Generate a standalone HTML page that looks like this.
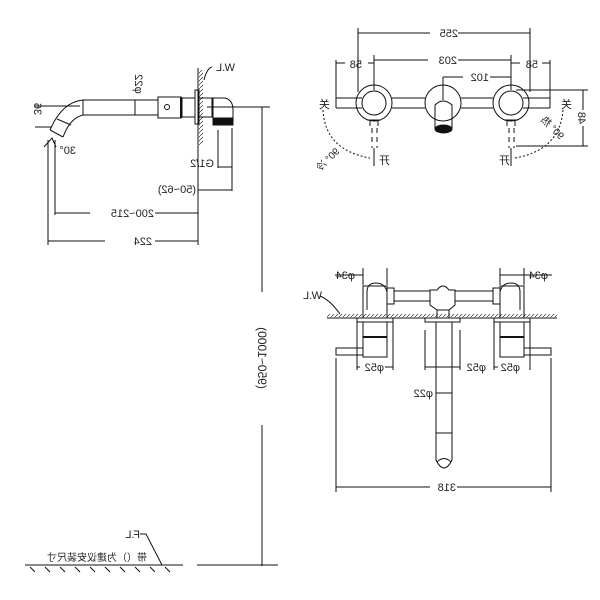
<!DOCTYPE html>
<html><head><meta charset="utf-8"><style>
html,body{margin:0;padding:0;background:#fff}
svg{display:block}
text{font-family:"Liberation Sans","Noto Sans CJK SC",sans-serif;font-size:11px;fill:#222}
</style></head><body>
<svg width="600" height="600" viewBox="0 0 600 600" xmlns="http://www.w3.org/2000/svg" stroke="#111" stroke-width="1" fill="none">
<defs>
<pattern id="h" width="4" height="4" patternUnits="userSpaceOnUse"><path d="M0,4 L4,0" stroke="#333" stroke-width="0.7"/></pattern>
</defs>
<!-- LEFT SIDE VIEW -->
<line x1="198" y1="68" x2="198" y2="145"/>
<rect x="199" y="70" width="4" height="75" fill="url(#h)" stroke="none"/>
<path d="M204,80 Q207,68 212,67"/>
<text transform="translate(235,71) scale(-1,1)" stroke="none">W.L</text>
<!-- tube -->
<rect x="83" y="100" width="75" height="15"/>
<line x1="135" y1="100" x2="135" y2="115"/>
<rect x="158" y="97" width="23" height="21"/>
<circle cx="167" cy="107" r="2.5"/>
<line x1="181" y1="97" x2="181" y2="118" stroke-width="2"/>
<rect x="182" y="98" width="13" height="19"/>
<rect x="195" y="90" width="4" height="34"/>
<rect x="199" y="98" width="13" height="19"/>
<path d="M213,98 L225,98 Q233,100 233,110 L233,125 L213,125 Z"/>
<rect x="213" y="118" width="20" height="7" fill="#111"/>
<path d="M83,100 Q62,102 50,130 M83,115 Q70,118 63,137 M50,130 L63,137 M57,119 L71,125"/>
<line x1="35" y1="106" x2="80" y2="106"/><line x1="35" y1="127" x2="52" y2="127"/>
<text transform="translate(34,109) rotate(90) scale(-1,1)" stroke="none" text-anchor="middle">36</text>
<path d="M44,147 L52,138 L56,147" />
<line x1="55" y1="140" x2="55" y2="215"/><line x1="48" y1="140" x2="48" y2="245"/>
<text transform="translate(76,154) scale(-1,1)" stroke="none">30°</text>
<text transform="translate(135,84) rotate(90) scale(-1,1)" stroke="none" text-anchor="middle">φ22</text>
<line x1="207" y1="107" x2="270" y2="107"/>
<line x1="218" y1="130" x2="218" y2="168"/><line x1="232" y1="128" x2="232" y2="191"/>
<line x1="218" y1="167" x2="232" y2="167"/>
<text transform="translate(214,167) scale(-1,1)" stroke="none">G1/2</text>
<line x1="198" y1="145" x2="198" y2="245"/>
<line x1="198" y1="190" x2="232" y2="190"/>
<text transform="translate(196,193) scale(-1,1)" stroke="none">(50~62)</text>
<line x1="55" y1="213" x2="90" y2="213"/><line x1="155" y1="213" x2="198" y2="213"/>
<text transform="translate(154,217) scale(-1,1)" stroke="none">200~215</text>
<line x1="48" y1="241" x2="105" y2="241"/><line x1="155" y1="241" x2="198" y2="241"/>
<text transform="translate(152,245) scale(-1,1)" stroke="none">224</text>
<!-- big vertical dim -->
<line x1="262" y1="107" x2="262" y2="292"/><line x1="262" y1="425" x2="262" y2="566"/>
<text transform="translate(258,358) rotate(90) scale(-1,1)" stroke="none" text-anchor="middle" style="font-size:12px">(950~1000)</text>
<line x1="197" y1="565" x2="278" y2="565"/>
<!-- floor -->
<line x1="25" y1="565" x2="183" y2="565"/>
<path d="M30,567l5,5M45,567l5,5M60,567l5,5M75,567l5,5M90,567l5,5M105,567l5,5M120,567l5,5M135,567l5,5M150,567l5,5M165,567l5,5"/>
<path d="M140,534 L146,534 L162,565"/>
<text transform="translate(140,538) scale(-1,1)" stroke="none">F.L</text>
<text transform="translate(147,561) scale(-1,1)" stroke="none" style="font-size:10px">带（）为建议安装尺寸</text>
<!-- TOP RIGHT VIEW -->
<line x1="358" y1="33" x2="430" y2="33"/><line x1="458" y1="33" x2="530" y2="33"/>
<text transform="translate(458,37) scale(-1,1)" stroke="none">255</text>
<line x1="358" y1="28" x2="358" y2="92"/><line x1="530" y1="28" x2="530" y2="92"/>
<line x1="374" y1="55" x2="374" y2="90"/><line x1="511" y1="55" x2="511" y2="90"/>
<line x1="336" y1="60" x2="336" y2="102"/><line x1="550" y1="60" x2="550" y2="102"/>
<line x1="374" y1="60" x2="428" y2="60"/><line x1="458" y1="60" x2="511" y2="60"/>
<text transform="translate(457,64) scale(-1,1)" stroke="none">203</text>
<line x1="336" y1="63" x2="345" y2="63"/><line x1="368" y1="63" x2="374" y2="63"/>
<text transform="translate(362,68) scale(-1,1)" stroke="none">58</text>
<line x1="511" y1="63" x2="520" y2="63"/><line x1="542" y1="63" x2="550" y2="63"/>
<text transform="translate(538,68) scale(-1,1)" stroke="none">58</text>
<line x1="443" y1="77" x2="443" y2="100"/>
<line x1="443" y1="77" x2="463" y2="77"/><line x1="490" y1="77" x2="511" y2="77"/>
<text transform="translate(489,81) scale(-1,1)" stroke="none">102</text>
<circle cx="374" cy="103" r="18"/><circle cx="374" cy="103" r="12"/>
<circle cx="511" cy="103" r="18"/><circle cx="511" cy="103" r="12"/>
<circle cx="443" cy="103" r="18"/>
<path d="M336,98 H362 M336,108 H362 M336,98 V108"/>
<path d="M392,98 H425 M392,108 H425 M461,98 H493 M461,108 H493"/>
<path d="M523,98 H550 M523,108 H550 M550,98 V108"/>
<path d="M435,128 V105 Q443,97 452,105 V128"/>
<ellipse cx="443.5" cy="129" rx="8.5" ry="4" fill="#111"/>
<path d="M367,120 H381 M370,120 V126 M378,120 V126 M504,120 H518 M507,120 V126 M515,120 V126"/>
<line x1="372" y1="128" x2="372" y2="148" stroke-dasharray="5,4"/><line x1="377" y1="128" x2="377" y2="148" stroke-dasharray="5,4"/>
<line x1="509" y1="128" x2="509" y2="148" stroke-dasharray="5,4"/><line x1="514" y1="128" x2="514" y2="148" stroke-dasharray="5,4"/>
<line x1="374" y1="148" x2="374" y2="166"/><line x1="511" y1="148" x2="511" y2="166"/>
<line x1="516" y1="90" x2="588" y2="90"/><line x1="516" y1="146" x2="588" y2="146"/>
<line x1="583" y1="90" x2="583" y2="110"/><line x1="583" y1="126" x2="583" y2="146"/>
<text transform="translate(578,118) rotate(90) scale(-1,1)" stroke="none" text-anchor="middle">48</text>
<path d="M323,110 Q325,150 370,158" stroke-dasharray="2,2"/>
<path d="M563,110 Q560,150 515,158" stroke-dasharray="2,2"/>
<text transform="translate(330,108) scale(-1,1)" stroke="none">关</text>
<text transform="translate(572,108) scale(-1,1)" stroke="none">关</text>
<text transform="translate(340,152) rotate(-45) scale(-1,1)" stroke="none" style="font-size:10px">90° 冷</text>
<text transform="translate(560,140) rotate(45) scale(-1,1)" stroke="none" style="font-size:10px">90° 热</text>
<text transform="translate(390,164) scale(-1,1)" stroke="none">开</text>
<text transform="translate(510,164) scale(-1,1)" stroke="none">开</text>
<!-- BOTTOM RIGHT VIEW -->
<line x1="327" y1="318" x2="557" y2="318"/>
<rect x="327" y="314" width="230" height="3" fill="url(#h)" stroke="none"/>
<text transform="translate(322,299) scale(-1,1)" stroke="none">W.L</text>
<path d="M320,296 Q330,300 340,314"/>
<line x1="363" y1="268" x2="363" y2="285"/><line x1="387" y1="268" x2="387" y2="285"/>
<line x1="500" y1="268" x2="500" y2="285"/><line x1="524" y1="268" x2="524" y2="285"/>
<line x1="335" y1="275" x2="363" y2="275"/><line x1="500" y1="275" x2="552" y2="275"/>
<text transform="translate(355,279) scale(-1,1)" stroke="none">φ34</text>
<text transform="translate(548,279) scale(-1,1)" stroke="none">φ34</text>
<path d="M367,310 V292 Q367,283 376,283 Q385,283 387,292"/>
<rect x="363" y="286" width="24" height="32" fill="none"/>
<path d="M520,310 V292 Q520,283 511,283 Q502,283 500,292"/>
<rect x="500" y="286" width="24" height="32"/>
<rect x="387" y="288" width="7" height="16"/><rect x="493" y="288" width="7" height="16"/>
<path d="M394,291 H430 M394,301 H430 M455,291 H493 M455,301 H493"/>
<path d="M430,290 L437,290 Q443,282 449,290 L455,290 L455,305 L449,310 L437,310 L430,305 Z"/>
<rect x="437" y="310" width="12" height="8"/>
<rect x="357" y="318" width="36" height="4"/><rect x="425" y="318" width="35" height="4"/><rect x="494" y="318" width="36" height="4"/>
<rect x="363" y="322" width="24" height="35"/><line x1="363" y1="337" x2="387" y2="337" stroke-width="2"/>
<rect x="500" y="322" width="24" height="35"/><line x1="500" y1="337" x2="524" y2="337" stroke-width="2"/>
<rect x="336" y="348" width="27" height="7"/><rect x="524" y="348" width="27" height="7"/>
<path d="M436,322 V460 Q444,476 452,460 V322"/>
<line x1="436" y1="393" x2="452" y2="393"/><line x1="436" y1="433" x2="452" y2="433"/>
<path d="M437,462 Q444,455 451,462"/>
<text transform="translate(433,397) scale(-1,1)" stroke="none">φ22</text>
<line x1="357" y1="322" x2="357" y2="370"/><line x1="393" y1="322" x2="393" y2="370"/>
<line x1="425" y1="330" x2="425" y2="370"/><line x1="460" y1="330" x2="460" y2="370"/>
<line x1="494" y1="322" x2="494" y2="370"/><line x1="530" y1="322" x2="530" y2="370"/>
<line x1="357" y1="367" x2="360" y2="367"/><line x1="385" y1="367" x2="393" y2="367"/>
<text transform="translate(384,371) scale(-1,1)" stroke="none">φ52</text>
<line x1="425" y1="367" x2="460" y2="367"/>
<line x1="494" y1="367" x2="498" y2="367"/>
<text transform="translate(486,371) scale(-1,1)" stroke="none">φ52</text>
<text transform="translate(520,371) scale(-1,1)" stroke="none">φ52</text>
<line x1="336" y1="358" x2="336" y2="492"/><line x1="551" y1="358" x2="551" y2="492"/>
<line x1="336" y1="487" x2="430" y2="487"/><line x1="457" y1="487" x2="551" y2="487"/>
<text transform="translate(456,491) scale(-1,1)" stroke="none">318</text>
</svg>
</body></html>
